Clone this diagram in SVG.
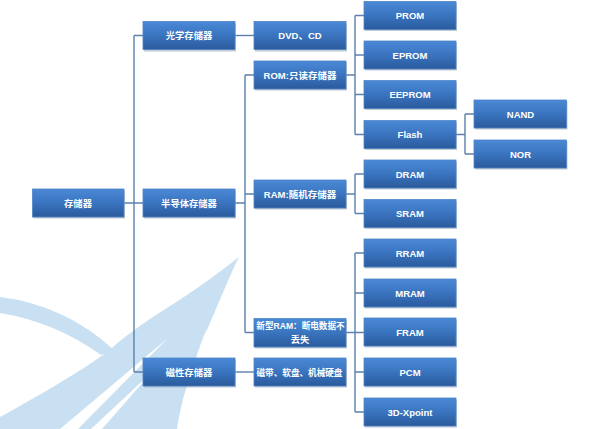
<svg xmlns="http://www.w3.org/2000/svg" width="600" height="429" viewBox="0 0 600 429">
<defs>
<linearGradient id="g" x1="0" y1="0" x2="0" y2="1">
<stop offset="0" stop-color="#4a89d6"/>
<stop offset="0.5" stop-color="#3a74bf"/>
<stop offset="1" stop-color="#2a5a9c"/>
</linearGradient>
<style>
.bx{fill:url(#g);stroke:#4f86c6;stroke-width:0.8}
.sh{fill:#8e9cad;opacity:0.55}
.t{fill:#fff;font-family:"Liberation Sans","Noto Sans CJK SC",sans-serif;font-weight:bold;font-size:9.5px;text-anchor:middle}
.c{fill:#fff;font-family:"Noto Sans CJK SC","Noto Sans CJK JP",sans-serif;font-weight:bold;font-size:9.3px;text-anchor:middle}
.ln{fill:none;stroke:#5b80ad;stroke-width:1.4}
.wm{fill:#c8e0f1}
</style>
</defs>
<rect width="600" height="429" fill="#fff"/>
<g id="watermark">
<path class="wm" d="M239,257 C210,280 180,300 167,308 C140,325 120,340 110,350 C80,372 40,395 0,417 L0,429 L177,429 C180,410 185,390 187,387 C195,360 205,330 207,330 C220,300 230,275 239,257 Z"/>
<path class="wm" d="M0,297 Q65,305 114,350 L101,355 Q55,322 0,313 Z"/>
<path fill="#fff" d="M168,338 L78,429 L60,429 Z"/>
<path fill="#fff" d="M152,372 L102,429 L91,429 Z"/>
</g>
<g id="connectors" class="ln">
<path d="M124,203 H134 M134,35.5 V372 M134,35.5 H143 M134,203 H143 M134,372 H143"/>
<path d="M235,35.5 H254"/>
<path d="M235,203 H245 M245,75 V332.5 M245,75 H254 M245,194 H254 M245,332.5 H254"/>
<path d="M235,372 H254"/>
<path d="M346,75 H355 M355,15.5 V134.5 M355,15.5 H364 M355,55 H364 M355,94.5 H364 M355,134.5 H364"/>
<path d="M456,134.5 H465 M465,114 V154 M465,114 H474 M465,154 H474"/>
<path d="M346,194 H355 M355,174 V213.5 M355,174 H364 M355,213.5 H364"/>
<path d="M346,332.5 H355 M355,253 V412 M355,253 H364 M355,293 H364 M355,332.5 H364 M355,372 H364 M355,412 H364"/>
</g>
<g id="n-root"><rect class="sh" x="33.5" y="190.5" width="91.5" height="28"/><rect class="bx" x="32.5" y="189" width="91.5" height="28"/><text class="c" x="78" y="206.5">存储器</text></g>
<g id="n-optical"><rect class="sh" x="144" y="23.5" width="92" height="28"/><rect class="bx" x="143" y="21.5" width="92" height="28"/><text class="c" x="189" y="39">光学存储器</text></g>
<g id="n-semi"><rect class="sh" x="144" y="190.5" width="92" height="28"/><rect class="bx" x="143" y="189" width="92" height="28"/><text class="c" x="189" y="206.5">半导体存储器</text></g>
<g id="n-magnetic"><rect class="sh" x="144" y="359.5" width="92" height="28"/><rect class="bx" x="143" y="358" width="92" height="28"/><text class="c" x="189" y="375.5">磁性存储器</text></g>
<g id="n-dvd"><rect class="sh" x="255" y="23.5" width="92" height="28"/><rect class="bx" x="254" y="21.5" width="92" height="28"/><text class="t" x="300" y="39">DVD、CD</text></g>
<g id="n-rom"><rect class="sh" x="255" y="62.5" width="92" height="28"/><rect class="bx" x="254" y="61" width="92" height="28"/><text class="t" x="300" y="78.5">ROM:只读存储器</text></g>
<g id="n-ram"><rect class="sh" x="255" y="181.5" width="92" height="28"/><rect class="bx" x="254" y="180" width="92" height="28"/><text class="t" x="300" y="197.5">RAM:随机存储器</text></g>
<g id="n-newram"><rect class="sh" x="255" y="320" width="92" height="28.5"/><rect class="bx" x="254" y="318.5" width="92" height="28.5"/><text class="t" x="300.5" y="328.5" style="font-size:8.6px">新型RAM：断电数据不</text><text class="c" x="300" y="343">丢失</text></g>
<g id="n-tape"><rect class="sh" x="255" y="359.5" width="92" height="28"/><rect class="bx" x="254" y="358" width="92" height="28"/><text class="c" x="299.5" y="375.5" style="font-size:8.6px">磁带、软盘、机械硬盘</text></g>
<g id="n-prom"><rect class="sh" x="365" y="3" width="92" height="28"/><rect class="bx" x="364" y="1.5" width="92" height="28"/><text class="t" x="410" y="19">PROM</text></g>
<g id="n-eprom"><rect class="sh" x="365" y="42.5" width="92" height="28"/><rect class="bx" x="364" y="41" width="92" height="28"/><text class="t" x="410" y="58.5">EPROM</text></g>
<g id="n-eeprom"><rect class="sh" x="365" y="82" width="92" height="28"/><rect class="bx" x="364" y="80.5" width="92" height="28"/><text class="t" x="410" y="98">EEPROM</text></g>
<g id="n-flash"><rect class="sh" x="365" y="122" width="92" height="28"/><rect class="bx" x="364" y="120.5" width="92" height="28"/><text class="t" x="410" y="138">Flash</text></g>
<g id="n-dram"><rect class="sh" x="365" y="161.5" width="92" height="28"/><rect class="bx" x="364" y="160" width="92" height="28"/><text class="t" x="410" y="177.5">DRAM</text></g>
<g id="n-sram"><rect class="sh" x="365" y="201" width="92" height="28"/><rect class="bx" x="364" y="199.5" width="92" height="28"/><text class="t" x="410" y="217">SRAM</text></g>
<g id="n-rram"><rect class="sh" x="365" y="240.5" width="92" height="28"/><rect class="bx" x="364" y="239" width="92" height="28"/><text class="t" x="410" y="256.5">RRAM</text></g>
<g id="n-mram"><rect class="sh" x="365" y="280.5" width="92" height="28"/><rect class="bx" x="364" y="279" width="92" height="28"/><text class="t" x="410" y="296.5">MRAM</text></g>
<g id="n-fram"><rect class="sh" x="365" y="319.5" width="92" height="28"/><rect class="bx" x="364" y="318" width="92" height="28"/><text class="t" x="410" y="335.5">FRAM</text></g>
<g id="n-pcm"><rect class="sh" x="365" y="359.5" width="92" height="28"/><rect class="bx" x="364" y="358" width="92" height="28"/><text class="t" x="410" y="375.5">PCM</text></g>
<g id="n-3dx"><rect class="sh" x="365" y="399.5" width="92" height="28"/><rect class="bx" x="364" y="398" width="92" height="28"/><text class="t" x="410" y="415.5">3D-Xpoint</text></g>
<g id="n-nand"><rect class="sh" x="475" y="101.5" width="92.5" height="28"/><rect class="bx" x="474" y="100" width="92.5" height="28"/><text class="t" x="520.5" y="117.5">NAND</text></g>
<g id="n-nor"><rect class="sh" x="475" y="141.5" width="92.5" height="28"/><rect class="bx" x="474" y="140" width="92.5" height="28"/><text class="t" x="520.5" y="157.5">NOR</text></g>
</svg>
